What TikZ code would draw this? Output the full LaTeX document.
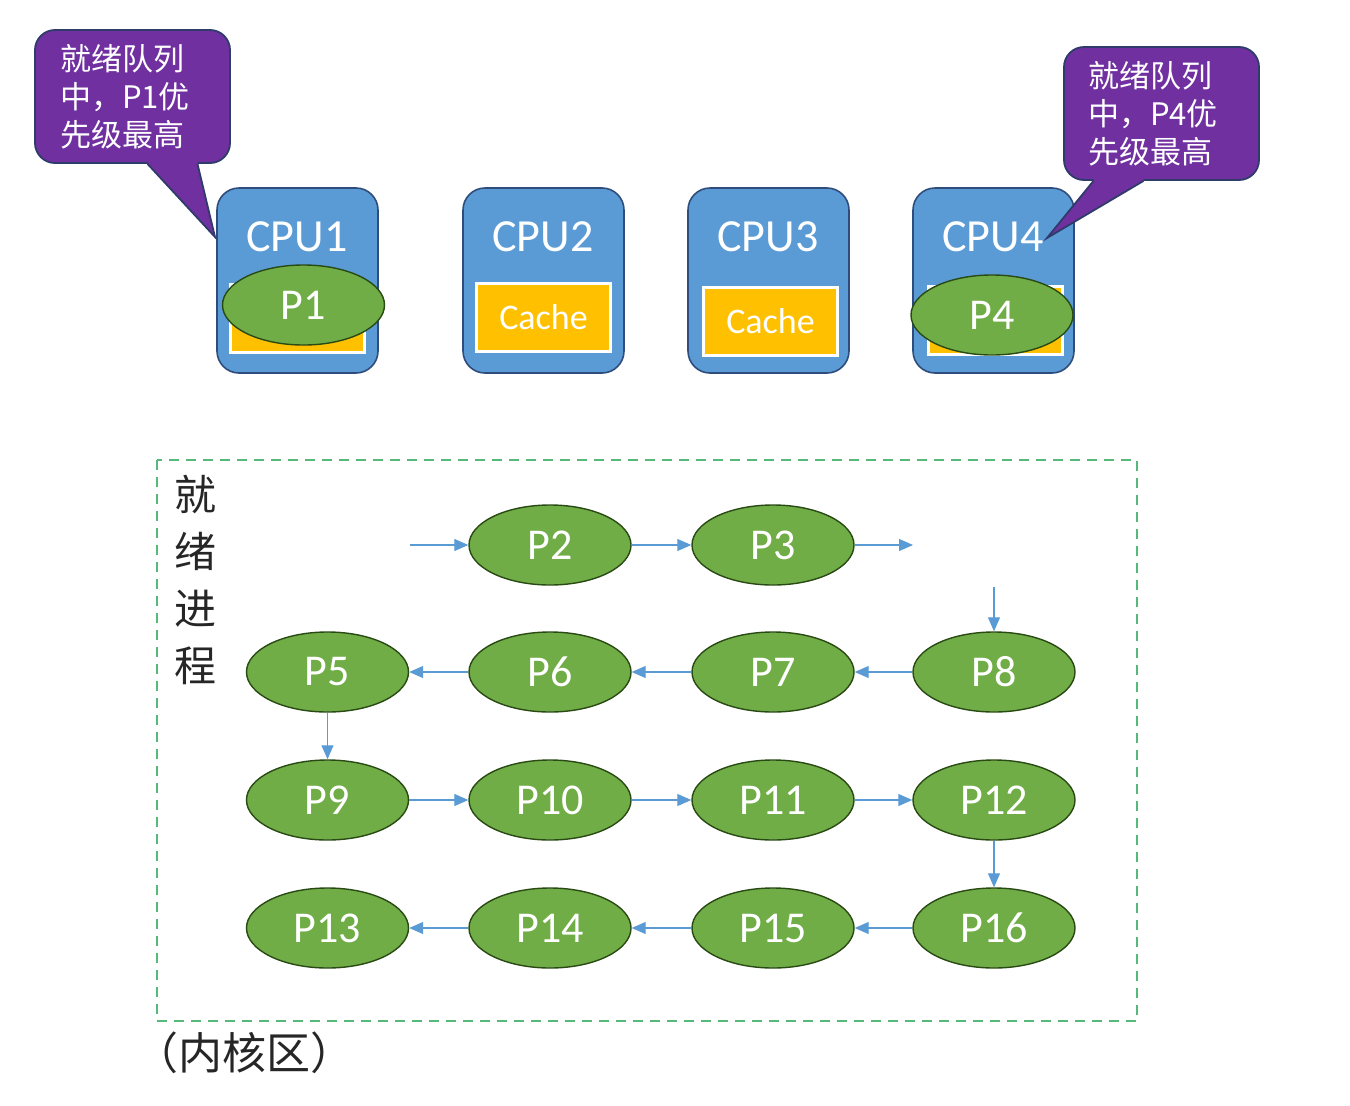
\documentclass[tikz,border=0pt]{standalone}
\usepackage{fontspec}
\setmainfont{Carlito}
\newfontfamily\cjk{Noto Sans CJK SC}
\usetikzlibrary{arrows.meta,shapes.geometric,calc}
\definecolor{bubblepurple}{HTML}{7030A0}
\definecolor{bubbleedge}{HTML}{2F3B6B}
\definecolor{cpublue}{HTML}{5B9BD5}
\definecolor{cpuedge}{HTML}{2E4C7C}
\definecolor{cacheyellow}{HTML}{FFC000}
\definecolor{procgreen}{HTML}{70AD47}
\definecolor{procedge}{HTML}{2A4A14}
\definecolor{arrowblue}{HTML}{5B9BD5}
\definecolor{dashgreen}{HTML}{55B97A}
\begin{document}
\begin{tikzpicture}[x=1pt,y=-1pt,
  cpubox/.style={draw=cpuedge,line width=1.6pt,fill=cpublue,rounded corners=22pt,minimum width=161pt,minimum height=185pt,inner sep=0pt},
  cpulabel/.style={text=white,font=\fontsize{46}{52}\selectfont,inner sep=0pt},
  cachebox/.style={draw=white,line width=3pt,fill=cacheyellow,minimum width=134pt,minimum height=68pt,inner sep=0pt,text=white,font=\fontsize{36}{40}\selectfont},
  proc/.style={ellipse,draw=procedge,line width=1.4pt,fill=procgreen,minimum width=162pt,minimum height=80pt,inner sep=0pt,text=white,font=\fontsize{44}{50}\selectfont},
  flow/.style={draw=arrowblue,line width=1.1pt,-{Triangle[length=14pt,width=12pt]}},
  bubble/.style={draw=bubbleedge,line width=1.8pt,fill=bubblepurple,rounded corners=20pt,minimum width=195pt,minimum height=133pt,inner sep=0pt},
  bubbletext/.style={inner sep=0pt,text=white,align=left,font=\cjk\fontsize{31}{38}\selectfont},
  tailedge/.style={draw=bubbleedge,line width=1.8pt},
  region/.style={draw=dashgreen,line width=2pt,dash pattern=on 10pt off 7pt},
  cjklabel/.style={font=\cjk\fontsize{42}{57}\selectfont,text=black!85,inner sep=0pt}
]
\useasboundingbox (0,0) rectangle (1350,1106);

% CPU boxes
\node[cpubox] (cpu1) at (297.5,280.5) {};
\node[cpubox] (cpu2) at (543.5,280.5) {};
\node[cpubox] (cpu3) at (768.5,280.5) {};
\node[cpubox] (cpu4) at (993.5,280.5) {};
\node[cpulabel] (l1) at (297,237) {CPU1};
\node[cpulabel] (l2) at (543,237) {CPU2};
\node[cpulabel] (l3) at (768,237) {CPU3};
\node[cpulabel] (l4) at (993,237) {CPU4};
\node[cachebox] (c1) at (297.5,318) {};
\node[cachebox] (c2) at (543.5,317.5) {Cache};
\node[cachebox] (c3) at (770.5,321) {Cache};
\node[cachebox] (c4) at (995,320) {};
\node[proc] (p1) at (303.5,305) {P1};
\node[proc] (p4) at (992,315) {P4};

% bubbles
\node[bubble] (b1) at (132.5,96.5) {};
\coordinate (t1) at (215,237);
\fill[bubblepurple] ($(b1.south)+(15,-6)$) -- ($(b1.south)+(15,0)$) -- (t1) -- ($(b1.south)+(65,0)$) -- ($(b1.south)+(65,-6)$) -- cycle;
\draw[tailedge] ($(b1.south)+(15,0)$) -- (t1) -- ($(b1.south)+(65,0)$);
\node[bubbletext] (bt1) at (125,97) {就绪队列\\中，P1优\\先级最高};

\node[bubble] (b2) at (1161.5,113.5) {};
\coordinate (t2) at (1047,238);
\fill[bubblepurple] ($(b2.south)+(-68,-6)$) -- ($(b2.south)+(-68,0)$) -- (t2) -- ($(b2.south)+(-18,0)$) -- ($(b2.south)+(-18,-6)$) -- cycle;
\draw[tailedge] ($(b2.south)+(-68,0)$) -- (t2) -- ($(b2.south)+(-18,0)$);
\node[bubbletext] (bt2) at (1153,114) {就绪队列\\中，P4优\\先级最高};

% ready region
\draw[region] (157,460) rectangle (1137,1021);
\node[cjklabel,align=center] (rl) at (195,580) {就\\绪\\进\\程};
\node[cjklabel,font=\cjk\fontsize{44}{50}\selectfont] (kl) at (244,1053) {（内核区）};

% processes
\node[proc] (p2) at (550,545) {P2};
\node[proc] (p3) at (773,545) {P3};
\node[proc] (p5) at (327.5,672) {P5};
\node[proc] (p6) at (550,672) {P6};
\node[proc] (p7) at (773,672) {P7};
\node[proc] (p8) at (994,672) {P8};
\node[proc] (p9) at (327.5,800) {P9};
\node[proc] (p10) at (550,800) {P10};
\node[proc] (p11) at (773,800) {P11};
\node[proc] (p12) at (994,800) {P12};
\node[proc] (p13) at (327.5,928) {P13};
\node[proc] (p14) at (550,928) {P14};
\node[proc] (p15) at (773,928) {P15};
\node[proc] (p16) at (994,928) {P16};

\coordinate (in) at (410,545);
\coordinate (out) at (913,545);
\coordinate (down) at (994,587);

\draw[flow] (in) -- (p2);
\draw[flow] (p2) -- (p3);
\draw[flow] (p3) -- (out);
\draw[flow] (down) -- (p8);
\draw[flow] (p8) -- (p7);
\draw[flow] (p7) -- (p6);
\draw[flow] (p6) -- (p5);
\draw[flow] (p5) -- (p9);
\draw[flow] (p9) -- (p10);
\draw[flow] (p10) -- (p11);
\draw[flow] (p11) -- (p12);
\draw[flow] (p12) -- (p16);
\draw[flow] (p16) -- (p15);
\draw[flow] (p15) -- (p14);
\draw[flow] (p14) -- (p13);
\end{tikzpicture}
\end{document}
